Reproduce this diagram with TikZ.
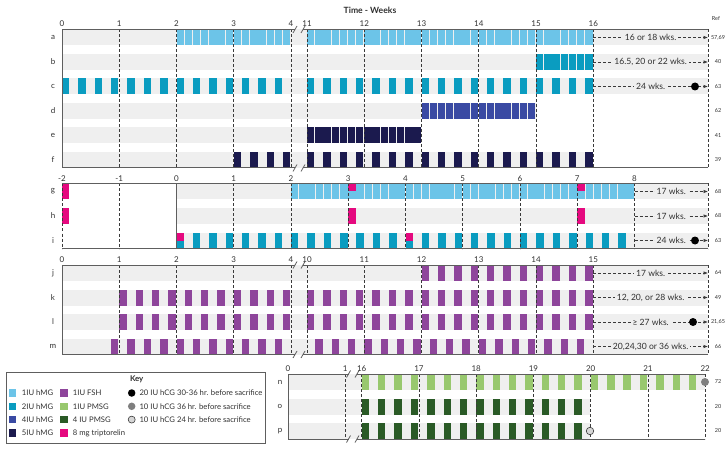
\documentclass[tikz,border=0pt]{standalone}
\usepackage{fontspec}
\setmainfont{Lato}
\usetikzlibrary{arrows.meta}

\definecolor{bandgrey}{HTML}{EFEFEF}
\definecolor{gridgrey}{HTML}{3A3A3A}
\definecolor{framegrey}{HTML}{5E5E5E}
\definecolor{txtgrey}{HTML}{303030}
\definecolor{hmgone}{HTML}{6CC4E8}
\definecolor{hmgtwo}{HTML}{0A9CC0}
\definecolor{hmgfour}{HTML}{3A4AA3}
\definecolor{hmgfive}{HTML}{1B1A4E}
\definecolor{fsh}{HTML}{8E459B}
\definecolor{pmsgone}{HTML}{98C86E}
\definecolor{pmsgfour}{HTML}{2A5A26}
\definecolor{tripto}{HTML}{E5097F}
\definecolor{hcgmid}{HTML}{7F7F7F}
\definecolor{hcglight}{HTML}{D6D6D6}

\tikzset{
  gridline/.style={draw=gridgrey, line width=0.75pt, dash pattern=on 3pt off 2pt},
  frame/.style={draw=framegrey, line width=1pt},
  fuarrow/.style={gridline, -{Latex[length=4.5pt,width=3.6pt]}},
  fulabel/.style={fill=bandgrey, inner sep=2pt, font=\fontsize{8.6}{10}\selectfont, text=txtgrey},
  ticklbl/.style={anchor=south, inner sep=0pt, font=\fontsize{8}{9}\selectfont, text=txtgrey},
  rowlbl/.style={inner sep=0pt, font=\fontsize{8}{9}\selectfont, text=txtgrey},
  reflbl/.style={inner sep=0pt, font=\fontsize{5.5}{6}\selectfont, text=txtgrey},
  hcgdot/.style={circle, inner sep=0pt, minimum size=8pt},
  keysw/.style={minimum size=7.5pt, inner sep=0pt},
  keytxt/.style={anchor=west, inner sep=0pt, font=\fontsize{7.7}{9}\selectfont, text=txtgrey},
}

\def\dw{8.18}
\def\greyband(#1,#2,#3){\fill[bandgrey] (#1,#3-8) rectangle (#2,#3+8);}
\def\doses[#1](#2,#3)#4{\foreach \dd in {#4}{\fill[#1] ({#2+\dd*\dw},#3-8) rectangle ++(7.4,16);}}
\def\halfdose[#1](#2,#3)#4{\foreach \dd in {#4}{\fill[#1] ({#2+\dd*\dw},#3-8) rectangle ++(7.4,8);}}
\def\gridweeks(#1,#2,#3,#4)#5{\foreach \wk in {#5}{\draw[gridline] ({#1+(\wk-#2)*57.25},#3) -- ({#1+(\wk-#2)*57.25},#4);}}
\def\weeklabels#1(#2,#3,#4)#5{\foreach \wk in {#5}{\node[ticklbl] (#1\wk) at ({#2+(\wk-#3)*57.25},#4) {\wk};}}
\def\breakmark(#1,#2){\draw[frame, line width=0.8pt] (#1-2,#2+3.5) -- (#1+2,#2-3.5);}
\def\followup#1(#2,#3,#4)#5{\coordinate (#1s) at (#2,#4); \coordinate (#1e) at (#3,#4);
  \draw[fuarrow] (#1s) -- node[fulabel] (#1txt) {#5} (#1e);}

\begin{document}
\begin{tikzpicture}[x=1pt,y=-1pt]
  \useasboundingbox (0,0) rectangle (728,457);

  \node[font=\bfseries\fontsize{8.6}{10}\selectfont, text=txtgrey] (title) at (370,10) {Time - Weeks};
  \node[reflbl] (reftitle) at (716,19) {Ref};

  %%%%% panel a-f %%%%%
  \greyband(62,708,37.5) \greyband(62,708,62) \greyband(62,708,86.5)
  \greyband(62,536.75,111) \greyband(62,421.5,135.5) \greyband(62,593.25,160)

  \doses[hmgone](62,37.5){14,...,27}
  \doses[hmgone](307,37.5){0,...,34}
  \doses[hmgtwo](307,62){28,...,34}
  \doses[hmgtwo](62,86.5){0,2,...,26}
  \doses[hmgtwo](307,86.5){0,2,...,34}
  \doses[hmgfour](307,111){14,...,27}
  \doses[hmgfive](307,135.5){0,...,13}
  \doses[hmgfive](62,160){21,23,...,27}
  \doses[hmgfive](307,160){0,2,...,34}

  \gridweeks(62,0,29.5,168){1,2,3,4}
  \gridweeks(307,11,29.5,168){11,...,16}
  \draw[gridline] (708,29.5) -- (708,168);
  \draw[frame] (295,29.5) -- (62,29.5) -- (62,168) -- (295,168);
  \draw[frame] (303,29.5) -- (708,29.5);
  \draw[frame] (303,168) -- (708,168);
  \breakmark(295,29.5) \breakmark(303,29.5) \breakmark(295,168) \breakmark(303,168)
  \weeklabels{pa}(62,0,27){0,...,4}
  \weeklabels{pb}(307,11,27){11,...,16}

  \followup{fa}(593.25,708,37.5){16 or 18 wks.}
  \followup{fb}(593.25,708,62){16.5, 20 or 22 wks.}
  \followup{fc}(593.25,708,86.5){24 wks.}
  \node[hcgdot, fill=black] (dotc) at (695,86.5) {};

  %%%%% panel g-i %%%%%
  \greyband(176.5,708,191.5) \greyband(176.5,708,216) \greyband(176.5,708,240.5)

  \doses[tripto](62,191.5){0}
  \doses[hmgone](62,191.5){28,...,69}
  \halfdose[tripto](62,191.5){35,63}
  \doses[tripto](62,216){0,35,63}
  \doses[hmgtwo](62,240.5){14,16,...,68}
  \halfdose[tripto](62,240.5){14,42}

  \gridweeks(62,-2,183.5,248.5){-2,-1,1,2,...,8}
  \draw[gridline] (708,183.5) -- (708,248.5);
  \draw[frame] (62,183.5) -- (708,183.5);
  \draw[frame] (62,248.5) -- (708,248.5);
  \draw[frame] (176.5,183.5) -- (176.5,248.5);
  \weeklabels{pc}(62,-2,181.5){-2,-1,0,1,2,...,8}

  \followup{fg}(634.5,708,191.5){17 wks.}
  \followup{fh}(634.5,708,216){17 wks.}
  \followup{fi}(634.5,708,240.5){24 wks.}
  \node[hcgdot, fill=black] (doti) at (695,240.5) {};

  %%%%% panel j-m %%%%%
  \greyband(62,708,273) \greyband(62,708,297.5) \greyband(62,708,322) \greyband(62,708,346.5)

  \doses[fsh](307,273){14,16,...,34}
  \doses[fsh](62,297.5){7,9,...,27}
  \doses[fsh](307,297.5){0,2,...,34}
  \doses[fsh](62,322){7,9,...,27}
  \doses[fsh](307,322){0,2,...,34}
  \doses[fsh](62,346.5){6,8,...,26}
  \doses[fsh](307,346.5){1,3,...,33}

  \gridweeks(62,0,265,354.5){1,2,3,4}
  \gridweeks(307,10,265,354.5){10,...,15}
  \draw[gridline] (708,265) -- (708,354.5);
  \draw[frame] (295,265) -- (62,265) -- (62,354.5) -- (295,354.5);
  \draw[frame] (303,265) -- (708,265);
  \draw[frame] (303,354.5) -- (708,354.5);
  \breakmark(295,265) \breakmark(303,265) \breakmark(295,354.5) \breakmark(303,354.5)
  \weeklabels{pd}(62,0,262.5){0,...,4}
  \weeklabels{pe}(307,10,262.5){10,...,15}

  \followup{fj}(593.25,708,273){17 wks.}
  \followup{fk}(593.25,708,297.5){12, 20, or 28 wks.}
  \followup{fl}(593.25,708,322){≥ 27 wks.}
  \followup{fm}(593.25,708,346.5){20,24,30 or 36 wks.}
  \node[hcgdot, fill=black] (dotl) at (693,322) {};

  %%%%% panel n-p %%%%%
  \greyband(288,705.2,382) \greyband(288,590,406.5) \greyband(288,590,431)

  \doses[pmsgone](361.7,382){0,2,...,40}
  \doses[pmsgfour](361.7,406.5){0,2,...,26}
  \doses[pmsgfour](361.7,431){0,2,...,26}

  \gridweeks(288,0,374,439){1}
  \gridweeks(361.7,16,374,439){16,...,22}
  \draw[frame] (348.5,374) -- (288,374) -- (288,439) -- (348.5,439);
  \draw[frame] (357,374) -- (705.2,374);
  \draw[frame] (357,439) -- (705.2,439);
  \breakmark(348.5,374) \breakmark(357,374) \breakmark(348.5,439) \breakmark(357,439)
  \weeklabels{pf}(288,0,371.5){0,1}
  \weeklabels{pg}(361.7,16,371.5){16,...,22}

  \node[hcgdot, fill=hcgmid] (dotn) at (705,382) {};
  \node[hcgdot, fill=hcglight, draw=gridgrey, line width=0.6pt, minimum size=7.5pt] (dotp) at (590,431) {};

  %%%%% row labels and refs %%%%%
  \foreach \r/\y/\rf in {a/37.5/{57,69}, b/62/40, c/86.5/63, d/111/62, e/135.5/41, f/160/39,
      g/191.5/68, h/216/68, i/240.5/63, j/273/64, k/297.5/49, l/322/{21,65}, m/346.5/66}{
    \node[rowlbl] (row\r) at (53,\y) {\r};
    \node[reflbl] (ref\r) at (718,\y) {\rf};
  }
  \foreach \r/\y/\rf in {n/382/72, o/406.5/20, p/431/20}{
    \node[rowlbl] (row\r) at (280,\y) {\r};
    \node[reflbl] (ref\r) at (718,\y) {\rf};
  }

  %%%%% key %%%%%
  \draw[frame] (6,372.3) rectangle (265.7,443.3);
  \node[font=\bfseries\fontsize{7.9}{9}\selectfont, text=txtgrey] (keytitle) at (136.7,379.5) {Key};
  \foreach \c/\t/\y [count=\i] in {hmgone/1IU hMG/393, hmgtwo/2IU hMG/406.3, hmgfour/4IU hMG/419.6, hmgfive/5IU hMG/433}{
    \node[keysw, fill=\c] (swa\i) at (12.3,\y) {};
    \node[keytxt] (txa\i) at (21.7,\y) {\t};
  }
  \foreach \c/\t/\y [count=\i] in {fsh/1IU FSH/393, pmsgone/1IU PMSG/406.3, pmsgfour/4 IU PMSG/419.6, tripto/8 mg triptorelin/433}{
    \node[keysw, fill=\c] (swb\i) at (64.2,\y) {};
    \node[keytxt] (txb\i) at (72.7,\y) {\t};
  }
  \node[hcgdot, fill=black, minimum size=7.5pt] (swc1) at (131.7,393) {};
  \node[keytxt] (txc1) at (139.3,393) {20 IU hCG 30-36 hr. before sacrifice};
  \node[hcgdot, fill=hcgmid, minimum size=7.5pt] (swc2) at (131.7,406.3) {};
  \node[keytxt] (txc2) at (139.3,406.3) {10 IU hCG 36 hr. before sacrifice};
  \node[hcgdot, fill=hcglight, draw=gridgrey, line width=0.6pt, minimum size=7pt] (swc3) at (131.7,419.6) {};
  \node[keytxt] (txc3) at (139.3,419.6) {10 IU hCG 24 hr. before sacrifice};
\end{tikzpicture}
\end{document}
